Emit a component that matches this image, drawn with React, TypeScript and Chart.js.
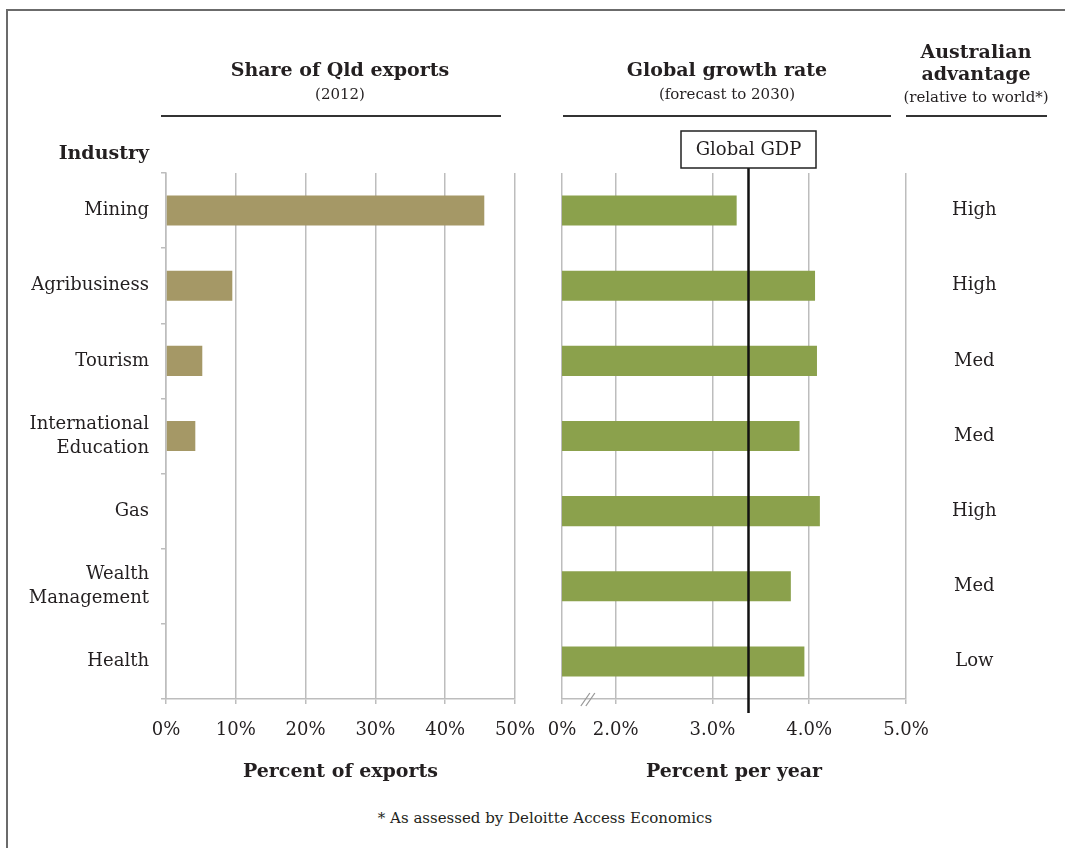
import React, { useEffect, useRef } from 'react';
import { Chart, registerables } from 'chart.js';

Chart.register(...registerables);

// ---------- data ----------
const industries: string[][] = [
  ['Mining'],
  ['Agribusiness'],
  ['Tourism'],
  ['International', 'Education'],
  ['Gas'],
  ['Wealth', 'Management'],
  ['Health'],
];
const exportShare: (number | null)[] = [45.6, 9.5, 5.2, 4.2, null, null, null];
const exportTicks = [0, 10, 20, 30, 40, 50];

const growthRate = [3.25, 4.06, 4.08, 3.9, 4.11, 3.81, 3.95];
const growthTicks = [0, 2.0, 3.0, 4.0, 5.0];
const growthTickLabels = ['0%', '2.0%', '3.0%', '4.0%', '5.0%'];
const GROWTH_AXIS_ORIGIN = 1.445; // broken axis: where 0% sits
const GROWTH_AXIS_MAX = 5.0;
const globalGdp = 3.37;

const advantage = ['High', 'High', 'Med', 'Med', 'High', 'Med', 'Low'];

// ---------- styles ----------
const FONT = 'DejaVu Serif';
const TEXT = '#231F20';
const GRID = '#BDBDBD';
const TAN = '#A59866';
const GREEN = '#8BA14C';

function LeftChart() {
  const ref = useRef<HTMLCanvasElement>(null);
  useEffect(() => {
    const chart = new Chart(ref.current!, {
      type: 'bar',
      data: {
        labels: industries,
        datasets: [
          {
            data: exportShare,
            backgroundColor: TAN,
            barPercentage: 0.4,
            categoryPercentage: 1.0,
          },
        ],
      },
      options: {
        indexAxis: 'y',
        responsive: false,
        animation: false,
        devicePixelRatio: 1,
        layout: { padding: { top: 173, right: 25, left: 0, bottom: 0 } },
        plugins: { legend: { display: false }, tooltip: { enabled: false } },
        scales: {
          y: {
            type: 'category',
            grid: { display: true, drawOnChartArea: false, offset: true, tickLength: 5, color: GRID, lineWidth: 1.5 },
            border: { display: true, color: GRID, width: 1.5 },
            ticks: { padding: 12, color: TEXT, font: { family: FONT, size: 18, lineHeight: 1.33 } },
            afterFit: (s: any) => {
              s.width = 166;
              s.paddingTop = 0;
              s.paddingBottom = 0;
            },
          },
          x: {
            type: 'linear',
            min: exportTicks[0],
            max: exportTicks[exportTicks.length - 1],
            afterBuildTicks: (s: any) => {
              s.ticks = exportTicks.map((v) => ({ value: v }));
            },
            ticks: {
              callback: (v: any) => v + '%',
              padding: 16,
              color: TEXT,
              font: { family: FONT, size: 18 },
              maxRotation: 0,
            },
            grid: { color: GRID, lineWidth: 1.5, tickLength: 5 },
            border: { display: true, color: GRID, width: 1.5 },
            title: {
              display: true,
              text: 'Percent of exports',
              color: TEXT,
              font: { family: FONT, size: 19, weight: 'bold' },
              padding: { top: 0, bottom: 17 },
            },
            afterFit: (s: any) => {
              s.height = 101;
              s.paddingLeft = 0;
              s.paddingRight = 0;
            },
          },
        },
      } as any,
    });
    return () => chart.destroy();
  }, []);
  return (
    <canvas
      ref={ref}
      width={540}
      height={800}
      style={{ position: 'absolute', left: 0, top: 0, width: 540, height: 800 }}
    />
  );
}

const gdpPlugin = {
  id: 'gdpLine',
  afterDraw(chart: any) {
    const { ctx, chartArea } = chart;
    const xs = chart.scales.x;
    const x = Math.round(xs.getPixelForValue(globalGdp)) + 0.5;
    ctx.save();
    // vertical line
    ctx.strokeStyle = '#111';
    ctx.lineWidth = 2.5;
    ctx.beginPath();
    ctx.moveTo(x, 168);
    ctx.lineTo(x, chartArea.bottom + 14);
    ctx.stroke();
    // box
    const bw = 135;
    const bh = 37;
    ctx.fillStyle = '#fff';
    ctx.fillRect(x - bw / 2, 131, bw, bh);
    ctx.strokeStyle = '#222';
    ctx.lineWidth = 1.5;
    ctx.strokeRect(x - bw / 2, 131, bw, bh);
    ctx.fillStyle = TEXT;
    ctx.font = `18px "${FONT}"`;
    ctx.textAlign = 'center';
    ctx.textBaseline = 'middle';
    ctx.fillText('Global GDP', x, 131 + bh / 2 + 1);
    // axis break marks
    const cx = (xs.getPixelForValue(GROWTH_AXIS_ORIGIN) + xs.getPixelForValue(growthTicks[1])) / 2;
    const y = chartArea.bottom;
    ctx.strokeStyle = '#9a9a9a';
    ctx.lineWidth = 1.3;
    ctx.beginPath();
    ctx.moveTo(cx - 8, y + 7);
    ctx.lineTo(cx + 1, y - 6);
    ctx.moveTo(cx - 3, y + 7);
    ctx.lineTo(cx + 6, y - 6);
    ctx.stroke();
    ctx.restore();
  },
};

function RightChart() {
  const ref = useRef<HTMLCanvasElement>(null);
  useEffect(() => {
    const chart = new Chart(ref.current!, {
      type: 'bar',
      data: {
        labels: advantage,
        datasets: [
          {
            data: growthRate,
            backgroundColor: GREEN,
            barPercentage: 0.4,
            categoryPercentage: 1.0,
          },
        ],
      },
      plugins: [gdpPlugin],
      options: {
        indexAxis: 'y',
        responsive: false,
        animation: false,
        devicePixelRatio: 1,
        layout: { padding: { top: 173, right: 0, left: 22, bottom: 0 } },
        plugins: { legend: { display: false }, tooltip: { enabled: false } },
        scales: {
          y: {
            type: 'category',
            labels: advantage,
            position: 'right',
            grid: { display: false, drawTicks: false },
            border: { display: false },
            ticks: {
              padding: 46,
              crossAlign: 'center',
              color: TEXT,
              font: { family: FONT, size: 18 },
            },
            afterFit: (s: any) => {
              s.width = 159;
              s.paddingTop = 0;
              s.paddingBottom = 0;
            },
          },
          x: {
            type: 'linear',
            min: GROWTH_AXIS_ORIGIN,
            max: GROWTH_AXIS_MAX,
            afterBuildTicks: (s: any) => {
              s.ticks = growthTicks.map((v) => ({ value: v === 0 ? GROWTH_AXIS_ORIGIN : v }));
            },
            ticks: {
              callback: (_v: any, i: number) => growthTickLabels[i],
              padding: 16,
              color: TEXT,
              font: { family: FONT, size: 18 },
              maxRotation: 0,
              autoSkip: false,
            },
            grid: { color: GRID, lineWidth: 1.5, tickLength: 5 },
            border: { display: true, color: GRID, width: 1.5 },
            title: {
              display: true,
              text: 'Percent per year',
              color: TEXT,
              font: { family: FONT, size: 19, weight: 'bold' },
              padding: { top: 0, bottom: 17 },
            },
            afterFit: (s: any) => {
              s.height = 101;
              s.paddingLeft = 0;
              s.paddingRight = 0;
            },
          },
        },
      } as any,
    });
    return () => chart.destroy();
  }, []);
  return (
    <canvas
      ref={ref}
      width={525}
      height={800}
      style={{ position: 'absolute', left: 540, top: 0, width: 525, height: 800 }}
    />
  );
}

function T(props: { x: number; y: number; size: number; bold?: boolean; align?: 'center' | 'right'; children: any }) {
  const { x, y, size, bold, align = 'center', children } = props;
  const tx = align === 'center' ? '-50%' : '-100%';
  return (
    <div
      style={{
        position: 'absolute',
        left: x,
        top: y,
        transform: `translate(${tx}, -50%)`,
        fontFamily: FONT,
        fontSize: size,
        fontWeight: bold ? 'bold' : 'normal',
        color: TEXT,
        whiteSpace: 'nowrap',
        lineHeight: 1.2,
      }}
    >
      {children}
    </div>
  );
}

function Rule(props: { x1: number; x2: number; y: number }) {
  return (
    <div
      style={{
        position: 'absolute',
        left: props.x1,
        top: props.y - 1,
        width: props.x2 - props.x1,
        height: 2,
        background: '#333',
      }}
    />
  );
}

export default function App() {
  return (
    <div
      style={{
        position: 'absolute',
        left: 0,
        top: 0,
        width: 1065,
        height: 848,
        overflow: 'hidden',
        background: '#fff',
      }}
    >
      <div
        style={{
          position: 'absolute',
          left: 6,
          top: 9,
          width: 1200,
          height: 1000,
          borderLeft: '2px solid #6b6b6b',
          borderTop: '2px solid #6b6b6b',
        }}
      />
      <LeftChart />
      <RightChart />

      <T x={340} y={69} size={19} bold>Share of Qld exports</T>
      <T x={340} y={94} size={15}>(2012)</T>
      <Rule x1={161} x2={501} y={116} />

      <T x={727} y={69} size={19} bold>Global growth rate</T>
      <T x={727} y={94} size={15}>(forecast to 2030)</T>
      <Rule x1={563} x2={891} y={116} />

      <T x={976} y={51} size={19} bold>Australian</T>
      <T x={976} y={73} size={19} bold>advantage</T>
      <T x={976} y={97} size={15}>(relative to world*)</T>
      <Rule x1={906} x2={1047} y={116} />

      <T x={149} y={152} size={19} bold align="right">Industry</T>

      <T x={545} y={818} size={15}>* As assessed by Deloitte Access Economics</T>
    </div>
  );
}
